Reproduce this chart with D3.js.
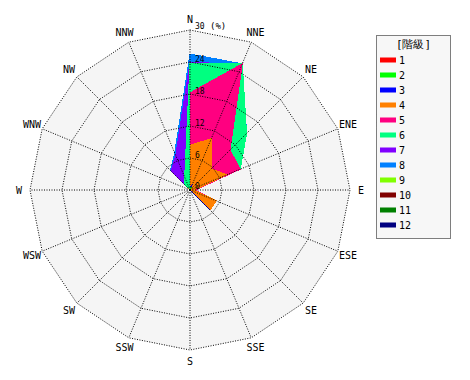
<!DOCTYPE html>
<html><head><meta charset="utf-8">
<script src="https://cdn.jsdelivr.net/npm/d3@7"></script>
<style>
body{margin:0;background:#fff;}
svg{display:block;}
text{font-family:"DejaVu Sans Mono",monospace;fill:#000;}
</style></head>
<body>
<svg id="chart" width="470" height="380"></svg>
<script>
const directions = ["N","NNE","NE","ENE","E","ESE","SE","SSE","S","SSW","SW","WSW","W","WNW","NW","NNW"];
const classLabels = ["1","2","3","4","5","6","7","8","9","10","11","12"];
const classColors = ["#ff0000","#00ff00","#0000ff","#ff8000","#ff0080","#00ff80","#8000ff","#0080ff","#80ff00","#800000","#008000","#000080"];
const ringTicks = [0,6,12,18,24,30];
// per-class frequency (%) by direction: N, NNE, NE, ENE, E, ESE, SE, SSE, S, SSW, SW, WSW, W, WNW, NW, NNW
const c1  = [0,0,0,0,0,0,0,0,0,0,0,0,0,0,0,0];
const c2  = [0.2,0.6,0,0,0,0,0,0,0,0,0,0,0,0,0.2,0];
const c3  = [0.1,0.6,0,0,0,0,5.3,0,0,0,0,0,0,0,0,0];
const c4  = [8.1,9.2,5.6,7.5,0.8,5.3,0,0,0,0,0,0,0,0,0.3,0];
const c5  = [9.8,15.2,5.0,2.7,0.2,0,0,0,0,0,0,0,0,0,0,0];
const c6  = [5.6,0,4.4,0,0,0,0,0,0,0,0,0,0,0,1.0,2.6];
const c7  = [0.1,0,0,0,0,0,0,0,0,0,0,0,0,0,3.5,4.4];
const c8  = [1.6,0,0,0,0,0,0,0,0,0,0,0,0,0,0.2,0.5];
const c9  = [0,0,0,0,0,0,0,0,0,0,0,0,0,0,0,0];
const c10 = [0,0,0,0,0,0,0,0,0,0,0,0,0,0,0,0];
const c11 = [0,0,0,0,0,0,0,0,0,0,0,0,0,0,0,0];
const c12 = [0,0,0,0,0,0,0,0,0,0,0,0,0,0,0,0];
const series = [c1,c2,c3,c4,c5,c6,c7,c8,c9,c10,c11,c12];

const svg = d3.select("#chart");
const cx = 190, cy = 190, R = 160;
const r = d3.scaleLinear().domain([0,30]).range([0,R]);
const ang = d3.scaleLinear().domain([0,directions.length]).range([0,2*Math.PI]);
const g = svg.append("g").attr("transform",`translate(${cx},${cy})`);

const radial = d3.lineRadial().angle((d,i)=>ang(i)).radius(d=>r(d)).curve(d3.curveLinearClosed);

// background
g.append("path").attr("d", radial(directions.map(()=>30))).attr("fill","#f5f5f5").attr("stroke","none");

// cumulative sums
const cum = [];
series.forEach((s,k)=>{
  cum.push(s.map((v,i)=> (k>0?cum[k-1][i]:0) + v));
});

// draw from outermost class to innermost
for(let k=series.length-1;k>=0;k--){
  g.append("path").attr("d", radial(cum[k]))
    .attr("fill", classColors[k]).attr("stroke", classColors[k]).attr("stroke-width",1)
    .attr("shape-rendering","crispEdges");
}

// grid rings
ringTicks.filter(t=>t>0).forEach(t=>{
  g.append("path").attr("d", radial(directions.map(()=>t)))
   .attr("fill","none").attr("stroke","#000").attr("stroke-width",1).attr("stroke-dasharray","1,1.5");
});
// spokes
directions.forEach((d,i)=>{
  const a = ang(i);
  g.append("line").attr("x1",0).attr("y1",0)
   .attr("x2", r(30)*Math.sin(a)).attr("y2", -r(30)*Math.cos(a))
   .attr("stroke","#000").attr("stroke-width",1).attr("stroke-dasharray","1,1.5");
});

// direction labels
directions.forEach((d,i)=>{
  const a = ang(i), rr = 171;
  g.append("text").attr("x", rr*Math.sin(a)).attr("y", -rr*Math.cos(a))
   .attr("text-anchor","middle").attr("dominant-baseline","central")
   .attr("font-size",10).text(d);
});

// ring labels
ringTicks.forEach(t=>{
  g.append("text").attr("x", 5).attr("y", -r(t) + (t===0?-1:0) + (t===30?-1.5:0))
   .attr("font-size", 8).text(t);
});
g.append("text").attr("x",20).attr("y",-r(30)-1).attr("font-size",9).text("(%)");

// legend
const lg = svg.append("g").attr("transform","translate(376.5,35.5)");
lg.append("rect").attr("x",0).attr("y",0).attr("width",74).attr("height",203)
  .attr("fill","#f7f7f7").attr("stroke","#000").attr("stroke-dasharray","1,1");
lg.append("text").attr("x",37).attr("y",9).attr("text-anchor","middle").attr("dominant-baseline","central")
  .attr("font-size",11).attr("font-family","Noto Sans CJK JP, sans-serif").text("[階級]");
classLabels.forEach((c,i)=>{
  const y = 24.5 + i*15;
  lg.append("rect").attr("x",3.5).attr("y",y-2.5).attr("width",16).attr("height",5).attr("fill",classColors[i]);
  lg.append("text").attr("x",22.5).attr("y",y).attr("dominant-baseline","central").attr("font-size",10).text(c);
});
</script>
</body></html>
